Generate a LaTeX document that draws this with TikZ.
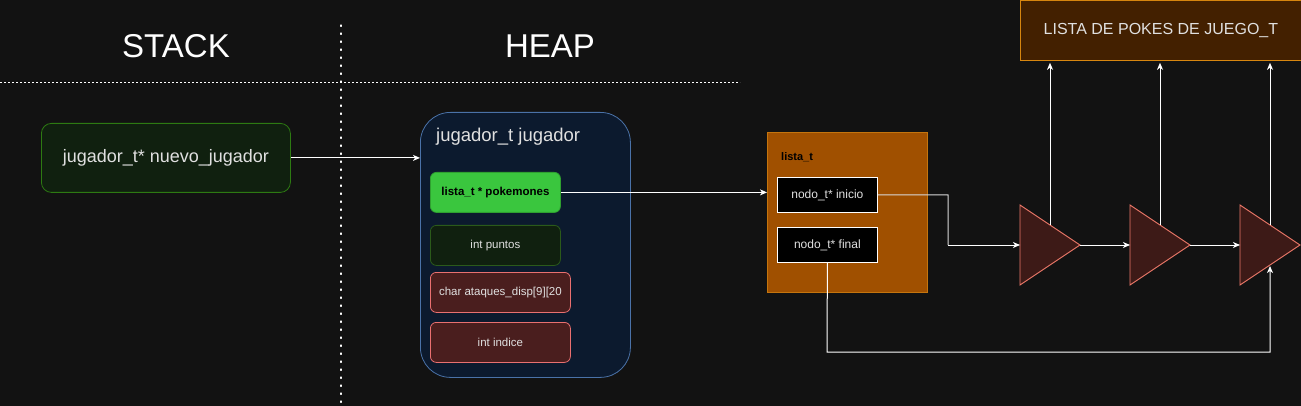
\documentclass[tikz,border=0pt]{standalone}
\usepackage{fontspec}
\setmainfont{Liberation Sans}
\usetikzlibrary{arrows.meta}
\definecolor{bg}{HTML}{121212}
\definecolor{txt}{HTML}{E0E0E0}
\definecolor{dgfill}{HTML}{10200F}
\definecolor{dgline}{HTML}{2D7A12}
\definecolor{dg2line}{HTML}{2B5A1A}
\definecolor{bluefill}{HTML}{0C1A2E}
\definecolor{blueline}{HTML}{4A72A8}
\definecolor{lgfill}{HTML}{3AC63E}
\definecolor{lgline}{HTML}{2FA030}
\definecolor{redfill}{HTML}{4A1E1E}
\definecolor{redline}{HTML}{EA7070}
\definecolor{orfill}{HTML}{A05000}
\definecolor{orline}{HTML}{C4750E}
\definecolor{trifill}{HTML}{3D1A17}
\definecolor{triline}{HTML}{F07A6A}
\definecolor{brfill}{HTML}{432000}
\definecolor{brline}{HTML}{D7860F}
\begin{document}
\begin{tikzpicture}[x=1pt,y=-1pt,
  box/.style={draw, line width=0.8pt, inner sep=0pt, align=center, anchor=north west, text=txt},
  arr/.style={draw=white, line width=1pt, -{Stealth[length=7pt,width=6pt,inset=2pt]}},
  tri/.style={draw=triline, fill=trifill, line width=0.9pt, line join=miter},
  title/.style={text=white, font=\fontsize{33}{35}\selectfont}
]
\useasboundingbox[fill=bg] (0,0) rectangle (1301,406);

% headers and separators
\node[title] (stack) at (176,46) {STACK};
\node[title] (heap) at (550,46) {HEAP};
\draw[white, line width=1.2pt, dash pattern=on 1.4pt off 6.6pt, line cap=round] (341,25) -- (341,406);
\draw[white, line width=0.8pt, dash pattern=on 2pt off 2pt] (0,82) -- (740,82);

% stack
\node[box, draw=dgline, fill=dgfill, rounded corners=10pt, minimum width=249pt, minimum height=69pt,
  font=\fontsize{18}{20}\selectfont] (nuevo) at (41,123) {jugador\_t* nuevo\_jugador};

% heap: jugador container
\node[box, draw=blueline, fill=bluefill, rounded corners=30pt, minimum width=210pt, minimum height=265pt] (jug) at (420,112) {};
\node[anchor=west, text=txt, inner sep=0pt, font=\fontsize{18.5}{20}\selectfont] (jugtitle) at (436,137) {jugador\_t jugador};

\node[box, draw=lgline, fill=lgfill, rounded corners=6pt, minimum width=130pt, minimum height=40pt,
  text=black, font=\fontsize{11.5}{13}\selectfont\bfseries] (pok) at (430,172) {lista\_t * pokemones};
\node[box, draw=dg2line, fill=dgfill, rounded corners=6pt, minimum width=130pt, minimum height=40pt,
  font=\fontsize{11.5}{13}\selectfont] (pts) at (430,225) {int puntos};
\node[box, draw=redline, fill=redfill, rounded corners=6pt, minimum width=140pt, minimum height=40pt,
  font=\fontsize{11.5}{13}\selectfont] (ata) at (430,272) {char ataques\_disp[9][20};
\node[box, draw=redline, fill=redfill, rounded corners=6pt, minimum width=140pt, minimum height=40pt,
  font=\fontsize{11.5}{13}\selectfont] (ind) at (430,322) {int indice};

% lista_t
\node[box, draw=orline, fill=orfill, minimum width=160pt, minimum height=160pt] (lista) at (767,132) {};
\node[anchor=west, inner sep=0pt, text=black, font=\fontsize{11}{12}\selectfont\bfseries] (listalbl) at (781,157) {lista\_t};
\node[box, draw=white, fill=black, minimum width=100pt, minimum height=35pt,
  font=\fontsize{12}{14}\selectfont] (ini) at (777,177) {nodo\_t* inicio};
\node[box, draw=white, fill=black, minimum width=100pt, minimum height=35pt,
  font=\fontsize{12}{14}\selectfont] (fin) at (777,227) {nodo\_t* final};

% list of pokes box
\node[box, draw=brline, fill=brfill, minimum width=281pt, minimum height=60pt,
  font=\fontsize{16}{18}\selectfont] (pokes) at (1020,0) {LISTA DE POKES DE JUEGO\_T};

% triangles (nodes of the list)
\draw[tri] (1020,205) -- (1080,245) -- (1020,285) -- cycle;
\draw[tri] (1130,205) -- (1190,245) -- (1130,285) -- cycle;
\draw[tri] (1240,205) -- (1300,245) -- (1240,285) -- cycle;
\coordinate (t1in) at (1020,245); \coordinate (t1out) at (1080,245); \coordinate (t1top) at (1050,225);
\coordinate (t2in) at (1130,245); \coordinate (t2out) at (1190,245); \coordinate (t2top) at (1160,225);
\coordinate (t3in) at (1240,245); \coordinate (t3top) at (1270,225); \coordinate (t3bot) at (1270,266);

% connectors
\draw[arr] (nuevo.east) -- (nuevo.east -| jug.west);
\draw[arr] (pok.east) -- (pok.east -| lista.west);
\draw[draw=white!70!gray, line width=1pt] (ini.east) -- (948,195) -- (948,245);
\draw[arr] (948,245) -- (t1in);
\draw[arr] (t1out) -- (t2in);
\draw[arr] (t2out) -- (t3in);
\draw[arr, shorten >=2pt] (t1top) -- (t1top |- pokes.south);
\draw[arr, shorten >=2pt] (t2top) -- (t2top |- pokes.south);
\draw[arr, shorten >=2pt] (t3top) -- (t3top |- pokes.south);
\draw[arr] (fin.south) -- (827,352) -- (1270,352) -- (t3bot);
\end{tikzpicture}
\end{document}
